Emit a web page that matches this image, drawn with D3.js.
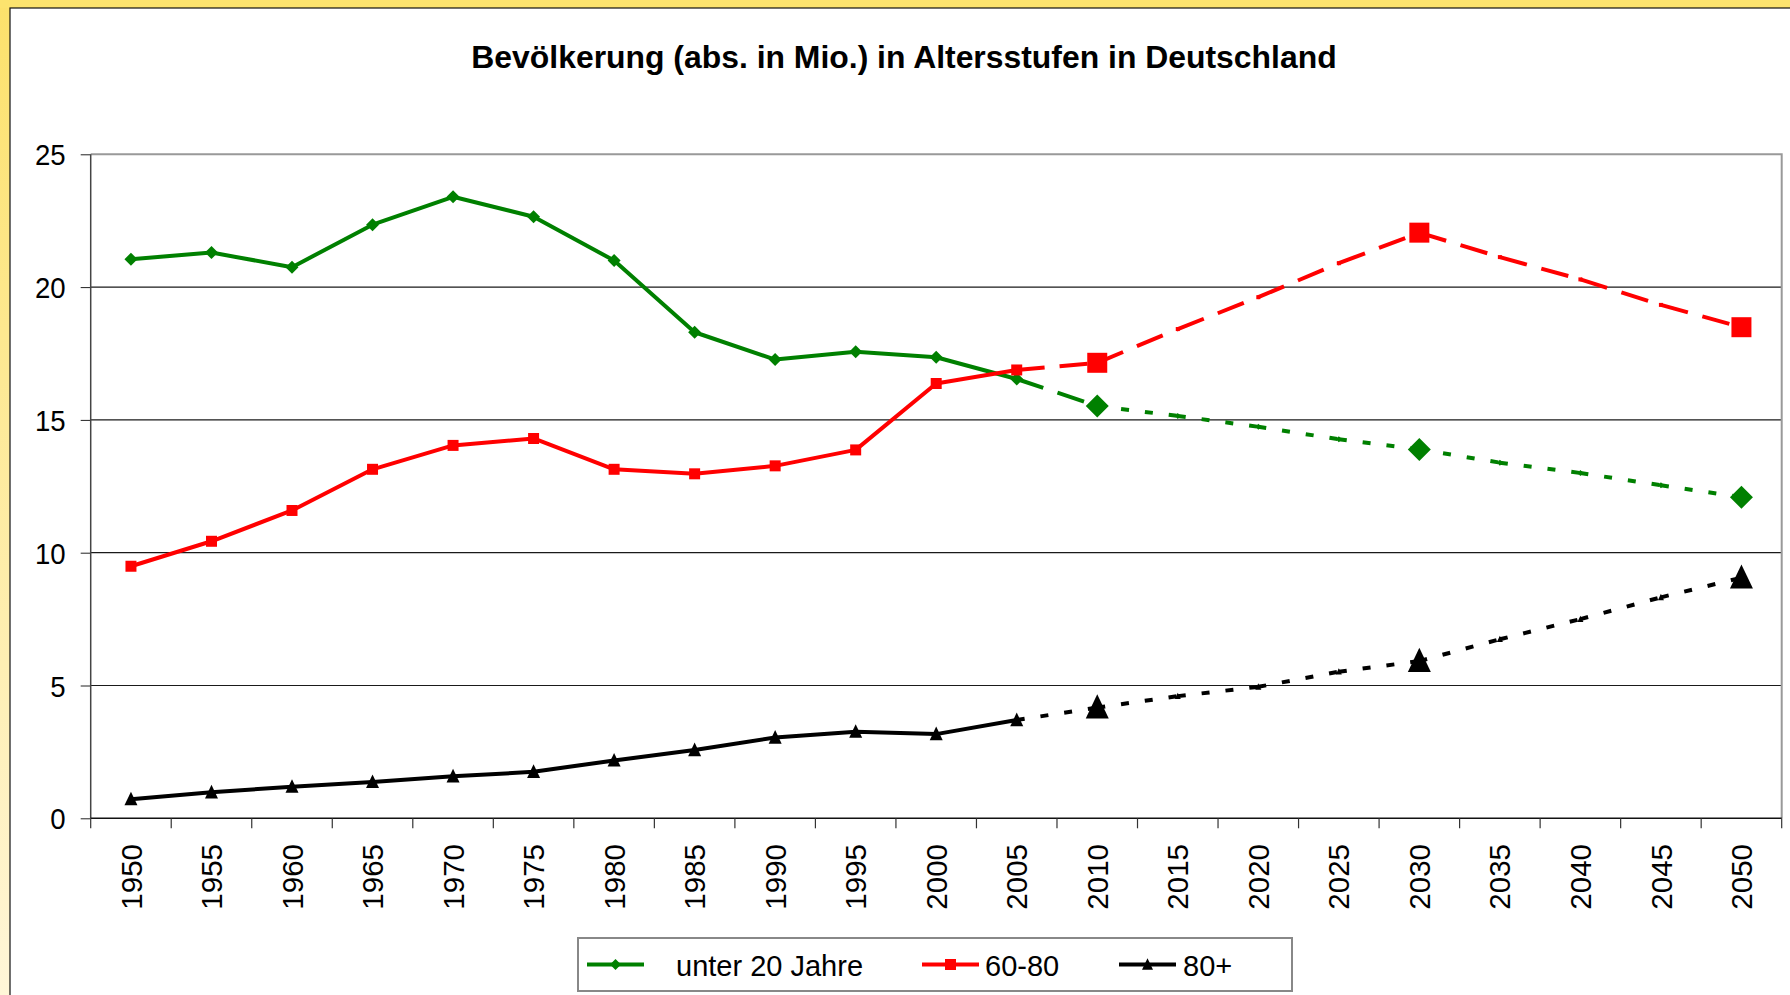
<!DOCTYPE html>
<html>
<head>
<meta charset="utf-8">
<script src="https://cdn.jsdelivr.net/npm/d3@7/dist/d3.min.js"></script>
<style>
    body { margin: 0; background: #fff; }
    svg { display: block; font-family: "Liberation Sans", Arial, sans-serif; }
</style>
</head>
<body>
<div id="chart"></div>
<script>
const chartTitle = "Bevölkerung (abs. in Mio.) in Altersstufen in Deutschland";
const years = [1950, 1955, 1960, 1965, 1970, 1975, 1980, 1985, 1990, 1995, 2000,
               2005, 2010, 2015, 2020, 2025, 2030, 2035, 2040, 2045, 2050];
const under20 = [21.05, 21.3, 20.75, 22.35, 23.4, 22.65, 21.0, 18.3, 17.27, 17.57, 17.36,
                 16.54, 15.52, 15.15, 14.74, 14.27, 13.89, 13.39, 13.0, 12.54, 12.09];
const age60to80 = [9.49, 10.43, 11.59, 13.14, 14.04, 14.3, 13.14, 12.97, 13.27, 13.87, 16.37,
                   16.88, 17.15, 18.42, 19.62, 20.9, 22.05, 21.13, 20.29, 19.33, 18.49];
const age80plus = [0.72, 0.98, 1.19, 1.37, 1.58, 1.75, 2.18, 2.57, 3.04, 3.26, 3.17,
                   3.7, 4.17, 4.6, 4.95, 5.52, 5.92, 6.74, 7.5, 8.32, 9.06];
const seriesNames = ["unter 20 Jahre", "60-80", "80+"];
const lastObserved = 2005;           // after this year the values are projections
const keyYears = [2010, 2030, 2050]; // projection years with big markers
const yTicks = [0, 5, 10, 15, 20, 25];

(function() {
    const width = 1790;
    const height = 995;
    const left = 90.7, right = 1781.7, top = 154.3, bottom = 818.3;

    const longDash = "28,15";
    const shortDash = "8,16";

    // per series: [dash 2005-2010, dash after 2010]
    const series = [
        { name: seriesNames[0], values: under20, color: "#008000", shape: "diamond", dash: [longDash, shortDash] },
        { name: seriesNames[1], values: age60to80, color: "#ff0000", shape: "square", dash: [longDash, longDash] },
        { name: seriesNames[2], values: age80plus, color: "#000000", shape: "triangle", dash: [shortDash, shortDash] }
    ];

    const x = d3.scaleBand().domain(years).range([left, right]);
    const cx = yr => x(yr) + x.bandwidth() / 2;
    const y = d3.scaleLinear().domain([0, 25]).range([bottom, top]);

    function markerPath(shape, s) {
        // s = overall size in px
        if (shape == "diamond") {
            const r = s / 2;
            return `M0,${-r}L${r},0L0,${r}L${-r},0Z`;
        } else if (shape == "square") {
            const h = s / 2;
            return `M${-h},${-h}h${s}v${s}h${-s}Z`;
        } else {
            const w = s, h = s * 1.05;
            return `M0,${-h * 0.55}L${w / 2},${h * 0.45}L${-w / 2},${h * 0.45}Z`;
        }
    }
    const markerSize = { diamond: [13, 23, 6], square: [11, 20, 4], triangle: [13, 23, 6] };

    const svg = d3.select("#chart").append("svg")
        .attr("width", width)
        .attr("height", height);

    // yellow frame
    const grad = svg.append("defs").append("linearGradient")
        .attr("id", "frame").attr("x1", 0).attr("y1", 0).attr("x2", 0).attr("y2", 1);
    grad.append("stop").attr("offset", "0%").attr("stop-color", "#fce16b");
    grad.append("stop").attr("offset", "100%").attr("stop-color", "#fff6d8");
    svg.append("rect").attr("width", width).attr("height", height).attr("fill", "url(#frame)");
    svg.append("rect").attr("x", 0).attr("width", width).attr("height", 8).attr("fill", "#fce36e");
    svg.append("rect").attr("x", 10).attr("y", 8).attr("width", width).attr("height", height)
        .attr("fill", "#fff").attr("stroke", "#111").attr("stroke-width", 1.2);

    svg.append("text")
        .attr("x", 904).attr("y", 68)
        .attr("text-anchor", "middle")
        .attr("font-size", 31.9).attr("font-weight", "bold")
        .text(chartTitle);

    // gridlines + y axis
    const yAxis = svg.append("g")
        .attr("transform", `translate(${left},0)`)
        .call(d3.axisLeft(y).tickValues(yTicks).tickSize(10).tickFormat(d => d));
    yAxis.select(".domain").remove();
    yAxis.selectAll("line").attr("stroke", "#222");
    yAxis.selectAll("text")
        .attr("x", null).attr("dy", null)
        .attr("text-anchor", "end")
        .attr("font-size", 30).attr("fill", "#000")
        .attr("transform", "translate(-25,10.5) scale(0.92,1)");
    svg.append("g")
        .selectAll("line")
        .data(yTicks.filter(t => t > 0 && t < 25))
        .enter()
        .append("line")
        .attr("x1", left).attr("x2", right)
        .attr("y1", d => y(d)).attr("y2", d => y(d))
        .attr("stroke", "#1a1a1a").attr("stroke-width", 1.2);

    // plot border top / right
    svg.append("path")
        .attr("d", `M${left},${top}H${right}V${bottom}`)
        .attr("fill", "none").attr("stroke", "#999").attr("stroke-width", 2);
    svg.append("line")
        .attr("x1", left).attr("x2", left).attr("y1", top).attr("y2", bottom)
        .attr("stroke", "#444").attr("stroke-width", 1.5);

    // x axis
    svg.append("line")
        .attr("x1", left).attr("x2", right).attr("y1", bottom).attr("y2", bottom)
        .attr("stroke", "#111").attr("stroke-width", 1.5);
    svg.append("g")
        .selectAll("line")
        .data(years.concat([null]))
        .enter()
        .append("line")
        .attr("x1", d => d == null ? right : x(d))
        .attr("x2", d => d == null ? right : x(d))
        .attr("y1", bottom).attr("y2", bottom + 10)
        .attr("stroke", "#333").attr("stroke-width", 1.2);
    svg.append("g")
        .selectAll("text")
        .data(years)
        .enter()
        .append("text")
        .attr("transform", d => `translate(${cx(d)},844) rotate(-90)`)
        .attr("dy", "0.36em")
        .attr("text-anchor", "end")
        .attr("font-size", 29.5)
        .text(d => d);

    const line = d3.line()
        .x(d => cx(d.year))
        .y(d => y(d.value));

    series.forEach(s => {
        const pts = years.map((yr, i) => ({ year: yr, value: s.values[i] }));
        const g = svg.append("g");
        const hist = pts.filter(p => p.year <= lastObserved);
        g.append("path")
            .attr("d", line(hist))
            .attr("fill", "none").attr("stroke", s.color).attr("stroke-width", 4)
            .attr("stroke-linejoin", "round");
        for (let i = hist.length - 1; i < pts.length - 1; i++) {
            g.append("path")
                .attr("d", line([pts[i], pts[i + 1]]))
                .attr("fill", "none").attr("stroke", s.color).attr("stroke-width", 4)
                .attr("stroke-dasharray", pts[i].year < keyYears[0] ? s.dash[0] : s.dash[1]);
        }
        g.selectAll(".marker")
            .data(pts)
            .enter()
            .append("path")
            .attr("class", "marker")
            .attr("transform", d => `translate(${cx(d.year)},${y(d.value)})`)
            .attr("d", d => {
                const sz = markerSize[s.shape];
                const size = d.year <= lastObserved ? sz[0] : (keyYears.includes(d.year) ? sz[1] : sz[2]);
                return markerPath(s.shape, size);
            })
            .attr("fill", s.color);
    });

    // legend
    const legend = svg.append("g");
    legend.append("rect")
        .attr("x", 578).attr("y", 938).attr("width", 714).attr("height", 53)
        .attr("fill", "#fff").attr("stroke", "#888").attr("stroke-width", 2);
    const legendPos = [{ x1: 587, tx: 676 }, { x1: 922, tx: 985 }, { x1: 1119, tx: 1183 }];
    series.forEach((s, i) => {
        const p = legendPos[i];
        legend.append("line")
            .attr("x1", p.x1).attr("x2", p.x1 + 57).attr("y1", 964.5).attr("y2", 964.5)
            .attr("stroke", s.color).attr("stroke-width", 4);
        legend.append("path")
            .attr("transform", `translate(${p.x1 + 28.5},964.5)`)
            .attr("d", markerPath(s.shape, 11))
            .attr("fill", s.color);
        legend.append("text")
            .attr("x", p.tx).attr("y", 975.5)
            .attr("font-size", 29)
            .text(s.name);
    });
})();
</script>
</body>
</html>
